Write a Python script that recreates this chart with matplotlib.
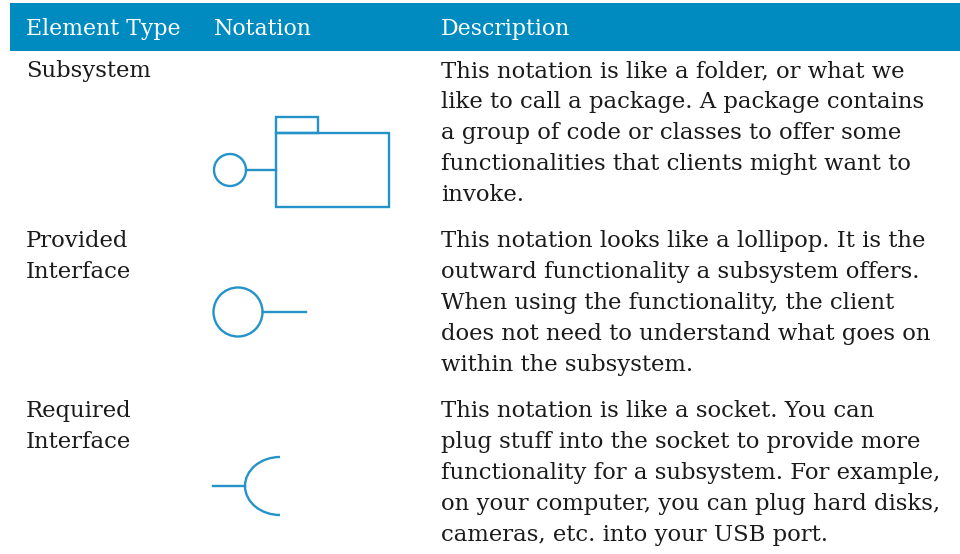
import matplotlib.pyplot as plt
from matplotlib.patches import Rectangle, Circle, Arc

# table content
headers = ["Element Type", "Notation", "Description"]
element_types = ["Subsystem", "Provided\nInterface", "Required\nInterface"]
descriptions = [
    ["This notation is like a folder, or what we",
     "like to call a package. A package contains",
     "a group of code or classes to offer some",
     "functionalities that clients might want to",
     "invoke."],
    ["This notation looks like a lollipop. It is the",
     "outward functionality a subsystem offers.",
     "When using the functionality, the client",
     "does not need to understand what goes on",
     "within the subsystem."],
    ["This notation is like a socket. You can",
     "plug stuff into the socket to provide more",
     "functionality for a subsystem. For example,",
     "on your computer, you can plug hard disks,",
     "cameras, etc. into your USB port."],
]

HEAD = "#008bc0"
LINE = "#2592c9"
TXT = "#1a1a1a"
FONT = "DejaVu Serif"
FS = 16.4
FS_HEAD = 15.8

fig = plt.figure(figsize=(9.6, 5.54), dpi=100)
ax = fig.add_axes([0, 0, 1, 1])
ax.set_xlim(0, 960)
ax.set_ylim(554, 0)
ax.axis("off")

# header bar
ax.add_patch(Rectangle((10, 3), 950, 48, facecolor=HEAD, edgecolor="none"))
for x, h in zip([26, 214, 441], headers):
    ax.text(x, 35, h, color="white", fontsize=FS_HEAD, family=FONT, va="baseline")

row_base = [77, 247, 417]
lh = 31
for i in range(3):
    for j, ln in enumerate(element_types[i].split("\n")):
        ax.text(26, row_base[i] + j * lh, ln, color=TXT, fontsize=FS,
                family=FONT, va="baseline")
    for j, ln in enumerate(descriptions[i]):
        ax.text(441, row_base[i] + j * lh, ln, color=TXT, fontsize=FS,
                family=FONT, va="baseline")

lw = 1.7
# subsystem: folder with lollipop
ax.add_patch(Rectangle((276, 133), 113, 74, fill=False, edgecolor=LINE, lw=lw))
ax.add_patch(Rectangle((276, 117), 42, 16, fill=False, edgecolor=LINE, lw=lw))
ax.add_patch(Circle((230, 170), 16, fill=False, edgecolor=LINE, lw=lw))
ax.plot([246, 276], [170, 170], color=LINE, lw=lw)

# provided interface: lollipop
ax.add_patch(Circle((238, 312), 24.5, fill=False, edgecolor=LINE, lw=lw))
ax.plot([262.5, 306], [312, 312], color=LINE, lw=lw)

# required interface: socket
ax.plot([213, 245], [486, 486], color=LINE, lw=lw)
ax.add_patch(Arc((280, 486), 70, 58, theta1=90, theta2=270, edgecolor=LINE, lw=lw))

fig.savefig("out.png", dpi=100)
